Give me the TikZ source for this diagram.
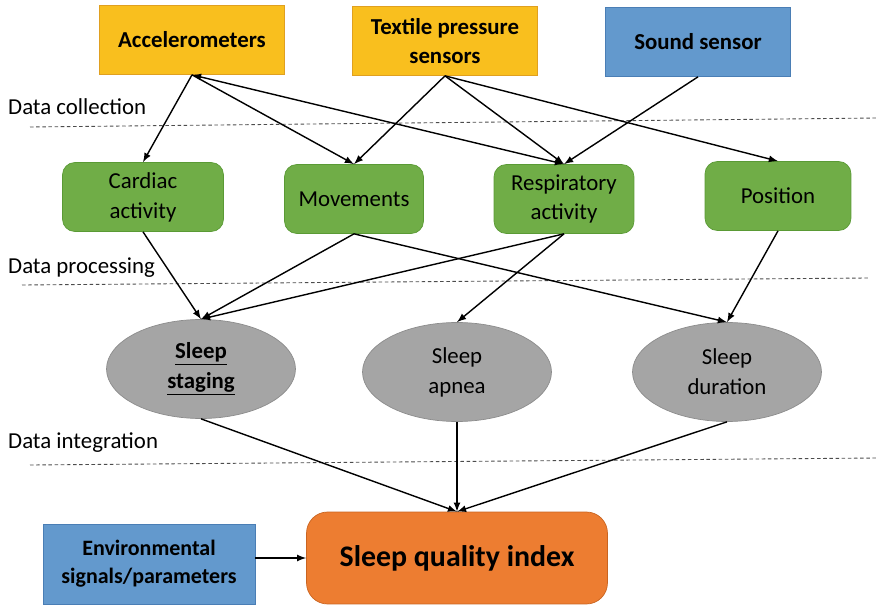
\documentclass[tikz,border=0pt]{standalone}
\usepackage{xcolor}
\usepackage{fontspec}
\setmainfont{Carlito}
\usepackage{tikz}
\usetikzlibrary{arrows.meta}
\usetikzlibrary{shapes.geometric}
\usetikzlibrary{positioning}
\definecolor{sensgold}{HTML}{F9BF1E}
\definecolor{sensgoldline}{HTML}{E0A020}
\definecolor{sensblue}{HTML}{6399CD}
\definecolor{sensblueline}{HTML}{4A7EB5}
\definecolor{featgreen}{HTML}{70AD47}
\definecolor{featgreenline}{HTML}{5A9A35}
\definecolor{outgray}{HTML}{A5A5A5}
\definecolor{outgrayline}{HTML}{8C8C8C}
\definecolor{sqiorange}{HTML}{ED7D31}
\definecolor{sqiorangeline}{HTML}{C96420}
\tikzset{>=latex}
\tikzstyle{sensor} = [rectangle, align=center, minimum width=3.7cm, minimum height=1.38cm, font=\fontsize{13}{16}\selectfont\bfseries]
\tikzstyle{feature} = [rectangle, rounded corners=7pt, draw=featgreenline, fill=featgreen, align=center, minimum height=1.38cm, font=\fontsize{13}{17}\selectfont]
\tikzstyle{outcome} = [ellipse, draw=outgrayline, fill=outgray, align=center, inner sep=0pt, minimum width=3.78cm, minimum height=1.98cm, font=\fontsize{13}{17}\selectfont]
\tikzstyle{stage} = [anchor=west, font=\fontsize{13}{15}\selectfont]
\tikzstyle{sep} = [dashed, dash pattern=on 2pt off 1.5pt, draw=black!70, line width=0.5pt]
\tikzstyle{link} = [->, thick]

\begin{document}
\begin{tikzpicture}[x=0.02cm, y=-0.02cm]
\useasboundingbox (0, 0) rectangle (877, 605);
% sensors
\node [sensor, draw=sensgoldline, fill=sensgold] (acc) at (192, 40) {Accelerometers};
\node [sensor, draw=sensgoldline, fill=sensgold] (tex) at (445, 41) {Textile pressure\\sensors};
\node [sensor, draw=sensblueline, fill=sensblue] (snd) at (698, 42) {Sound sensor};
% features
\node [feature, minimum width=3.22cm] (card) at (143, 197) {Cardiac\\activity};
\node [feature, minimum width=2.78cm] (mov) at (354, 199) {Movements};
\node [feature, minimum width=2.8cm] (resp) at (564, 199) {Respiratory\\activity};
\node [feature, minimum width=2.92cm] (pos) at (778, 196) {Position};
% outcomes
\node [outcome] (stag) at (201, 369) {\bfseries\underline{Sleep}\\\bfseries\underline{staging}};
\node [outcome] (apn) at (457, 372) {Sleep\\apnea};
\node [outcome] (dur) at (727, 372) {Sleep\\duration};
% index
\node [rectangle, draw=sqiorangeline, fill=sqiorange, rounded corners=12pt, minimum width=6.02cm, minimum height=1.84cm, font=\fontsize{17}{20}\selectfont\bfseries] (sqi) at (457, 558) {Sleep quality index};
\node [sensor, draw=sensblueline, fill=sensblue, minimum width=4.24cm, minimum height=1.6cm, font=\fontsize{12.5}{16}\selectfont\bfseries] (env) at (149, 564) {Environmental\\signals/parameters};
% stages
\node [stage] (lcol) at (2, 107) {Data collection};
\node [stage] (lproc) at (2, 268) {Data processing};
\node [stage] (lint) at (2, 443) {Data integration};
\coordinate (c1) at (30, 127);
\coordinate (c2) at (877, 118);
\coordinate (p1) at (22, 285);
\coordinate (p2) at (868, 278);
\coordinate (i1) at (30, 465);
\coordinate (i2) at (877, 458);
\draw [sep] (c1) -- (c2);
\draw [sep] (p1) -- (p2);
\draw [sep] (i1) -- (i2);
% links
\draw [link] (acc.south) to (card.north);
\draw [link] (acc.south) to (mov.north);
\draw [link, <->] (acc.south) to (resp.north);
\draw [link] (tex.south) to (mov.north);
\draw [link] (tex.south) to (resp.north);
\draw [link] (tex.south) to (pos.north);
\draw [link] (snd.south) to (resp.north);
\draw [link] (card.south) to (stag.north);
\draw [link] (mov.south) to (stag.north);
\draw [link] (mov.south) to (dur.north);
\draw [link] (resp.south) to (stag.north);
\draw [link] (resp.south) to (apn.north);
\draw [link] (pos.south) to (dur.north);
\draw [link] (stag.south) to (sqi.north);
\draw [link] (apn.south) to (sqi.north);
\draw [link] (dur.south) to (sqi.north);
\draw [link] (env.east |- sqi.west) to (sqi.west);
\end{tikzpicture}
\end{document}
